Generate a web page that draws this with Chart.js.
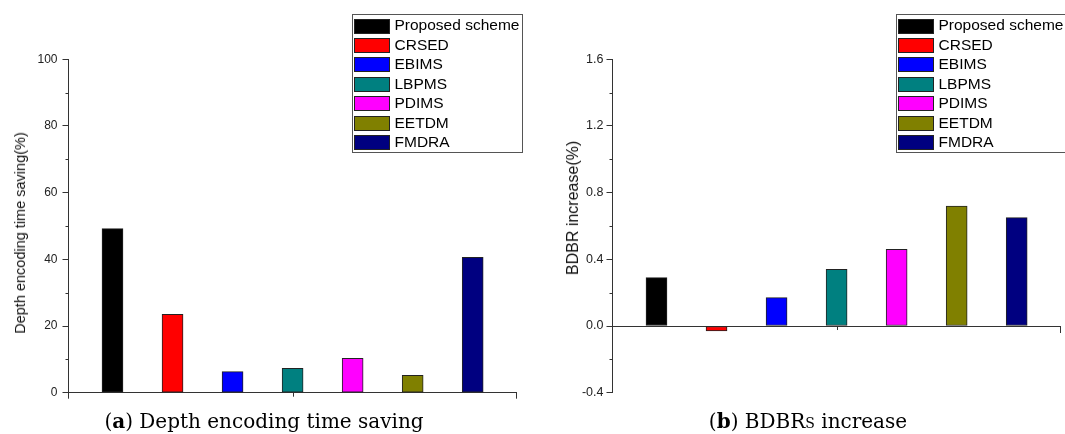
<!DOCTYPE html>
<html lang="en">
<head>
<meta charset="UTF-8">
<title>Depth encoding time saving and BDBR increase</title>
<style>
  body { margin: 0; width: 1065px; height: 434px; overflow: hidden; position: relative; background: #fff; font-family: "Liberation Sans", Arial, sans-serif; }
  .panel { position: absolute; top: 0; width: 544px; height: 434px; }
  .panel canvas { position: absolute; left: 0; top: 0; }
  .ytitle { position: absolute; color: #111; white-space: nowrap; transform: translate(-50%, -50%) rotate(-90deg); }
  .caption { position: absolute; top: 411px; left: 264px; transform: translateX(-50%); font-family: "DejaVu Serif", serif; font-size: 20px; line-height: 20px; white-space: nowrap; color: #000; }
  .sc { font-variant: small-caps; }
</style>
<script src="https://cdn.jsdelivr.net/npm/chart.js"></script>
</head>
<body>
<div class="panel" style="left:0">
  <canvas id="timeChart" width="544" height="434"></canvas>
  <div class="ytitle" style="left:20px; top:232.5px; font-size:14.5px">Depth encoding time saving(%)</div>
  <div class="caption">(<b>a</b>) Depth encoding time saving</div>
</div>
<div class="panel" style="left:544px">
  <canvas id="bdbrChart" width="544" height="434"></canvas>
  <div class="ytitle" style="left:28.5px; top:207.5px; font-size:16px">BDBR increase(%)</div>
  <div class="caption">(<b>b</b>) BDBR<span class="sc">s</span> increase</div>
</div>
<script>
const methods = ["Proposed scheme", "CRSED", "EBIMS", "LBPMS", "PDIMS", "EETDM", "FMDRA"];
const barColors = ["#000000", "#ff0000", "#0000ff", "#008080", "#ff00ff", "#808000", "#000080"];
const timeSaving = [49.2, 23.5, 6.3, 7.3, 10.3, 5.2, 40.6];
const bdbrIncrease = [0.29, -0.03, 0.17, 0.34, 0.46, 0.72, 0.65];
const timeTicks = [0, 20, 40, 60, 80, 100];
const bdbrTicks = [-0.4, 0, 0.4, 0.8, 1.2, 1.6];

const axisColor = "#333";

// minor ticks (Origin style) and the boxed legend
const extras = {
  id: "extras",
  afterDraw(chart) {
    const { ctx, chartArea } = chart;
    const x = chart.scales.x, y = chart.scales.y;
    const yt = chart.options.scales.y.tickValues;
    ctx.save();
    ctx.strokeStyle = axisColor;
    ctx.lineWidth = 1;
    ctx.beginPath();
    for (let i = 0; i < yt.length - 1; i++) {
      const py = Math.round(y.getPixelForValue((yt[i] + yt[i + 1]) / 2)) + 0.5;
      ctx.moveTo(chartArea.left - 3, py);
      ctx.lineTo(chartArea.left, py);
    }
    const px = Math.round(x.getPixelForValue(4)) + 0.5;
    const ay = y.getPixelForValue(0);
    ctx.moveTo(px, ay);
    ctx.lineTo(px, ay + 4);
    ctx.stroke();

    // legend
    const lg = { x: 352.5, y: 14.5, w: 170, h: 138, first: 25.5, row: 19.45 };
    ctx.strokeStyle = "#555";
    ctx.strokeRect(lg.x, lg.y, lg.w, lg.h);
    ctx.font = '15.5px "Liberation Sans", Arial, sans-serif';
    ctx.textBaseline = "middle";
    methods.forEach((m, i) => {
      const cy = lg.first + i * lg.row;
      ctx.fillStyle = barColors[i];
      ctx.fillRect(354.5, Math.round(cy - 7) + 0.5, 35, 14);
      ctx.strokeStyle = "#222";
      ctx.strokeRect(354.5, Math.round(cy - 7) + 0.5, 35, 14);
      ctx.fillStyle = "#000";
      ctx.fillText(m, 394.5, cy + 0.5);
    });
    ctx.restore();
  }
};

function makeChart(id, values, yTicks, opts) {
  return new Chart(document.getElementById(id), {
    type: "bar",
    data: {
      datasets: [{
        data: methods.map((m, i) => ({ x: i + 1, y: values[i] })),
        backgroundColor: barColors,
        borderColor: "#222",
        borderWidth: 1,
        borderSkipped: false,
        barThickness: 21
      }]
    },
    options: {
      responsive: false,
      animation: false,
      devicePixelRatio: 1,
      layout: { padding: { left: 0, top: 59.3, right: 27.3, bottom: 41.3 } },
      plugins: { legend: { display: false }, tooltip: { enabled: false } },
      scales: {
        x: {
          type: "linear",
          position: opts.xPos,
          min: 0.267,
          max: 7.733,
          offset: false,
          afterBuildTicks: s => { s.ticks = [{ value: s.min }, { value: s.max }]; },
          afterFit: s => { s.height = 0; },
          ticks: { display: false },
          grid: { offset: false, drawOnChartArea: false, drawTicks: true, tickLength: 6, tickColor: axisColor },
          border: { color: axisColor, width: 1 }
        },
        y: {
          min: yTicks[0],
          max: yTicks[yTicks.length - 1],
          tickValues: yTicks,
          afterBuildTicks: s => { s.ticks = yTicks.map(v => ({ value: v })); },
          afterFit: s => { s.width = 68.5; },
          ticks: {
            padding: opts.tickPad,
            color: "#222",
            font: { family: '"Liberation Sans", Arial, sans-serif', size: opts.tickSize },
            callback: opts.fmt
          },
          grid: { drawOnChartArea: false, drawTicks: true, tickLength: 6, tickColor: axisColor },
          border: { color: axisColor, width: 1 }
        }
      }
    },
    plugins: [extras]
  });
}

makeChart("timeChart", timeSaving, timeTicks, { xPos: "bottom", tickPad: 5, tickSize: 12, fmt: v => String(v) });
makeChart("bdbrChart", bdbrIncrease, bdbrTicks, { xPos: { y: 0 }, tickPad: 3, tickSize: 12.5, fmt: v => v.toFixed(1) });
</script>
</body>
</html>
